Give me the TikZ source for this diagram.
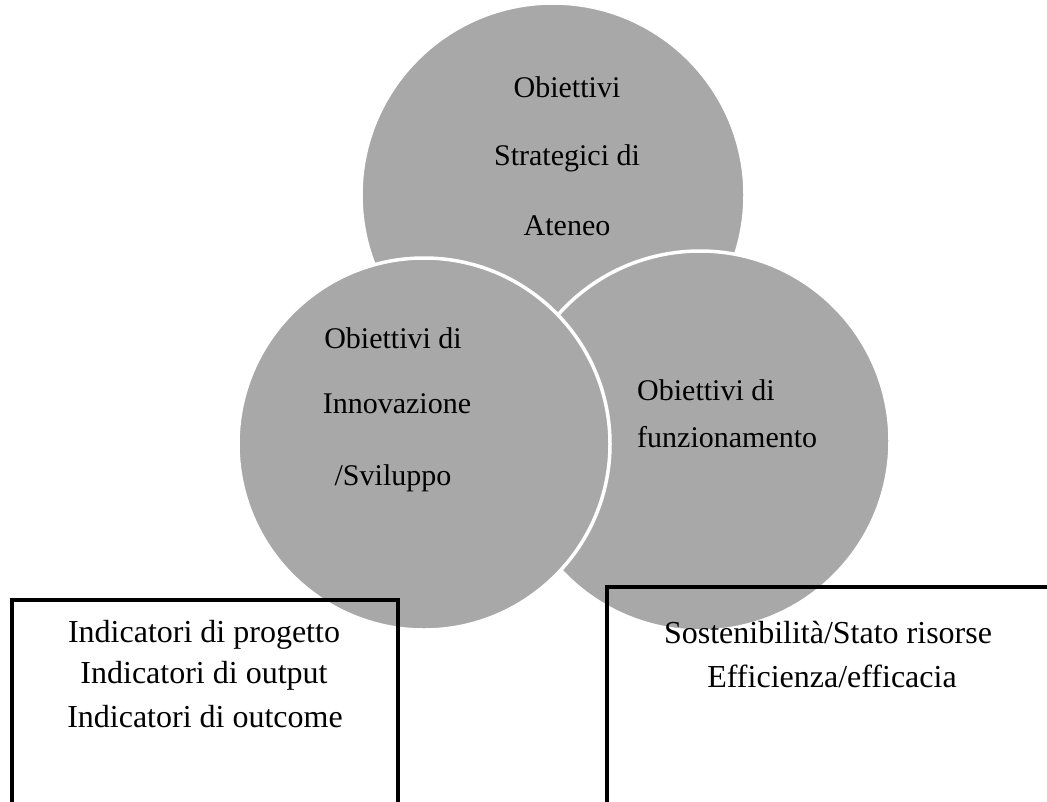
\documentclass[tikz,border=0pt]{standalone}
\usepackage{fontspec}
\setmainfont{Liberation Serif}
\definecolor{vgray}{RGB}{168,168,168}
\begin{document}
\begin{tikzpicture}[x=1pt,y=-1pt,
  venn/.style={circle, fill=vgray, draw=white, line width=3.5pt, inner sep=0pt},
  ctext/.style={font=\fontsize{30}{36}\selectfont, anchor=base, inner sep=0pt},
  cwtext/.style={font=\fontsize{30}{36}\selectfont, anchor=base west, inner sep=0pt},
  btext/.style={font=\fontsize{32}{38}\selectfont, anchor=base, inner sep=0pt},
  frame/.style={draw=black, line width=3.5pt}]
\useasboundingbox (0,0) rectangle (1047,801);
\clip (0,0) rectangle (1047,801);
\fill[white] (0,0) rectangle (1047,801);
% circles: top, right, left (drawing order)
\node[venn, minimum size=384pt] (ctop) at (553,195) {};
\node[venn, minimum size=380pt] (cright) at (700,441) {};
\node[venn, minimum size=372pt] (cleft) at (424,444) {};
% top circle text
\node[ctext] (t1) at (567,97) {Obiettivi};
\node[ctext] (t2) at (567,165) {Strategici di};
\node[ctext] (t3) at (567,235) {Ateneo};
% left circle text
\node[ctext] (l1) at (393,348) {Obiettivi di};
\node[ctext] (l2) at (397,413) {Innovazione};
\node[ctext] (l3) at (393,485) {/Sviluppo};
% right circle text
\node[cwtext] (r1) at (637,400) {Obiettivi di};
\node[cwtext] (r2) at (637,447) {funzionamento};
% boxes
\coordinate (lb1) at (12,805);
\coordinate (lb2) at (12,600);
\coordinate (lb3) at (398,600);
\coordinate (lb4) at (398,805);
\draw[frame] (lb1) -- (lb2) -- (lb3) -- (lb4);
\coordinate (rb1) at (607,805);
\coordinate (rb2) at (607,587);
\coordinate (rb3) at (1052,587);
\draw[frame] (rb1) -- (rb2) -- (rb3);
% box texts
\node[btext] (b1) at (204,642) {Indicatori di progetto};
\node[btext] (b2) at (204,683) {Indicatori di output};
\node[btext] (b3) at (205,727) {Indicatori di outcome};
\node[btext] (b4) at (828,643) {Sostenibilità/Stato risorse};
\node[btext] (b5) at (832,687) {Efficienza/efficacia};
\end{tikzpicture}
\end{document}
